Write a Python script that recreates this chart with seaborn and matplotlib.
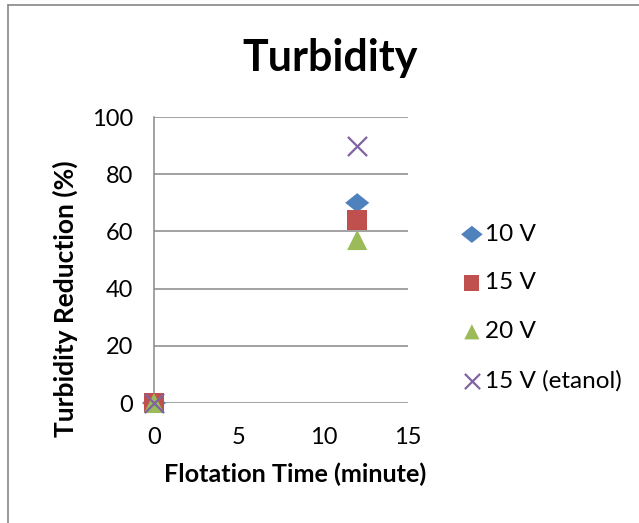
import matplotlib
matplotlib.use("Agg")
import matplotlib.pyplot as plt
from matplotlib.lines import Line2D
from matplotlib.markers import MarkerStyle
from matplotlib.transforms import Affine2D
import seaborn as sns
import pandas as pd

# ---- data ----
time_min = [0, 12]
series_names = ["10 V", "15 V", "20 V", "15 V (etanol)"]
v10 = [0, 70]
v15 = [0, 64]
v20 = [0, 57]
v15_etanol = [0, 90]
x_ticks = [0, 5, 10, 15]
y_ticks = [0, 20, 40, 60, 80, 100]

sns.set_theme(style="white")
plt.rcParams["font.family"] = ["Lato", "DejaVu Sans"]
plt.rcParams["text.color"] = "black"

colors = ["#4F81BD", "#C0504D", "#9BBB59", "#8064A2"]
diamond = MarkerStyle("D", transform=Affine2D().scale(1.0, 0.8))
markers = [diamond, "s", "^", "x"]
sizes = [150, 200, 210, 190]

fig = plt.figure(figsize=(6.39, 5.23), dpi=100)
W, H = 639, 523
ax = fig.add_axes([154 / W, 1 - 403 / H, 254 / W, 286 / H])

values = [v10, v15, v20, v15_etanol]
for name, vals, c, m, s in zip(series_names, values, colors, markers, sizes):
    df = pd.DataFrame({"t": time_min, "r": vals})
    if m == "x":
        sns.scatterplot(data=df, x="t", y="r", ax=ax, marker=m, s=s, color=c,
                        linewidth=1.6, label=name, clip_on=False, zorder=5)
    else:
        sns.scatterplot(data=df, x="t", y="r", ax=ax, marker=m, s=s, color=c,
                        edgecolor="none", linewidth=0, label=name, clip_on=False, zorder=5)

grid_c = "#878787"
ax.set_xlim(0, 15)
ax.set_ylim(0, 100)
ax.set_xticks(x_ticks)
ax.set_yticks(y_ticks)
ax.yaxis.grid(True, color=grid_c, linewidth=1.1)
ax.xaxis.grid(False)
ax.set_axisbelow(True)
for sp in ["top", "right", "bottom"]:
    ax.spines[sp].set_visible(False)
ax.spines["left"].set_color(grid_c)
ax.spines["left"].set_linewidth(1.1)
ax.tick_params(axis="both", length=0, labelsize=17, colors="black")
ax.tick_params(axis="y", pad=15)
ax.tick_params(axis="x", pad=17)

ax.set_xlabel("Flotation Time (minute)", fontsize=18.2, fontweight="bold", color="black")
ax.set_ylabel("Turbidity Reduction (%)", fontsize=19, fontweight="bold", color="black")
ax.yaxis.label.set_va("center")
ax.yaxis.label.set_ha("center")
ax.xaxis.label.set_va("center")
ax.yaxis.set_label_coords((65 - 154) / 254, (403 - 299) / 286)
ax.xaxis.set_label_coords((295 - 154) / 254, (403 - 474) / 286)

fig.text(330 / W, 1 - 58 / H, "Turbidity", fontsize=31, fontweight="bold",
         ha="center", va="center", color="black")

leg = ax.legend(loc="upper left", bbox_to_anchor=(450 / W, 1 - 214 / H),
                bbox_transform=fig.transFigure, frameon=False, fontsize=17.5,
                handletextpad=0.05, labelspacing=1.14, borderaxespad=0,
                handlelength=1.0)
for t in leg.get_texts():
    t.set_color("black")
for h in leg.legend_handles:
    h.set_sizes([120])

# chart border (top and left visible)
fig.add_artist(Line2D([8 / W, 1.0], [1 - 5 / H, 1 - 5 / H], transform=fig.transFigure,
                      color="#868686", linewidth=1.2))
fig.add_artist(Line2D([8 / W, 8 / W], [0.0, 1 - 5 / H], transform=fig.transFigure,
                      color="#868686", linewidth=1.2))

fig.savefig("out.png", dpi=100)
